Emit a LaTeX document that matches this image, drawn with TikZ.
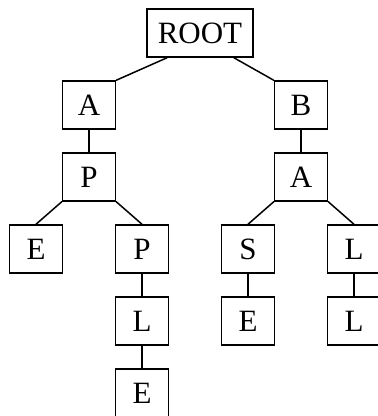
\documentclass[tikz,border=0pt]{standalone}
\usepackage{fontspec}
\setmainfont{Liberation Serif}
\usetikzlibrary{positioning}

\begin{document}
\begin{tikzpicture}[x=1pt, y=1pt, line width=1.5pt, line cap=round]
  \def\dy{72}      % vertical spacing of levels

  \tikzset{letter/.style={draw, rectangle, minimum width=53pt, minimum height=48pt,
      inner sep=0pt, font=\fontsize{31}{36}\selectfont}}

  \useasboundingbox (0, 0) rectangle (378, -416);

  % Root
  \node[letter, inner xsep=11pt] (root) at (200, -33) {ROOT};

  % Left branch
  \node[letter] (ra) at (89, {-33-\dy}) {A};
  \node[letter] (rap) at (89, {-33-2*\dy}) {P};
  \node[letter] (rape) at (36, {-33-3*\dy}) {E};
  \node[letter] (rapp) at (142, {-33-3*\dy}) {P};
  \node[letter] (rappl) at (142, {-33-4*\dy}) {L};
  \node[letter] (rapple) at (142, {-33-5*\dy}) {E};

  % Right branch
  \node[letter] (rb) at (301, {-33-\dy}) {B};
  \node[letter] (rba) at (301, {-33-2*\dy}) {A};
  \node[letter] (rbas) at (248, {-33-3*\dy}) {S};
  \node[letter] (rbal) at (354, {-33-3*\dy}) {L};
  \node[letter] (rbase) at (248, {-33-4*\dy}) {E};
  \node[letter] (rball) at (354, {-33-4*\dy}) {L};

  % Edges
  \draw ([xshift=21pt]root.south west) -- (ra.north east);
  \draw ([xshift=-20pt]root.south east) -- (rb.north west);
  \draw (ra) -- (rap);
  \draw (rap.south west) -- (rape.north);
  \draw (rap.south east) -- (rapp.north);
  \draw (rapp) -- (rappl);
  \draw (rappl) -- (rapple);
  \draw (rb) -- (rba);
  \draw (rba.south west) -- (rbas.north);
  \draw (rba.south east) -- (rbal.north);
  \draw (rbas) -- (rbase);
  \draw (rbal) -- (rball);
\end{tikzpicture}
\end{document}
